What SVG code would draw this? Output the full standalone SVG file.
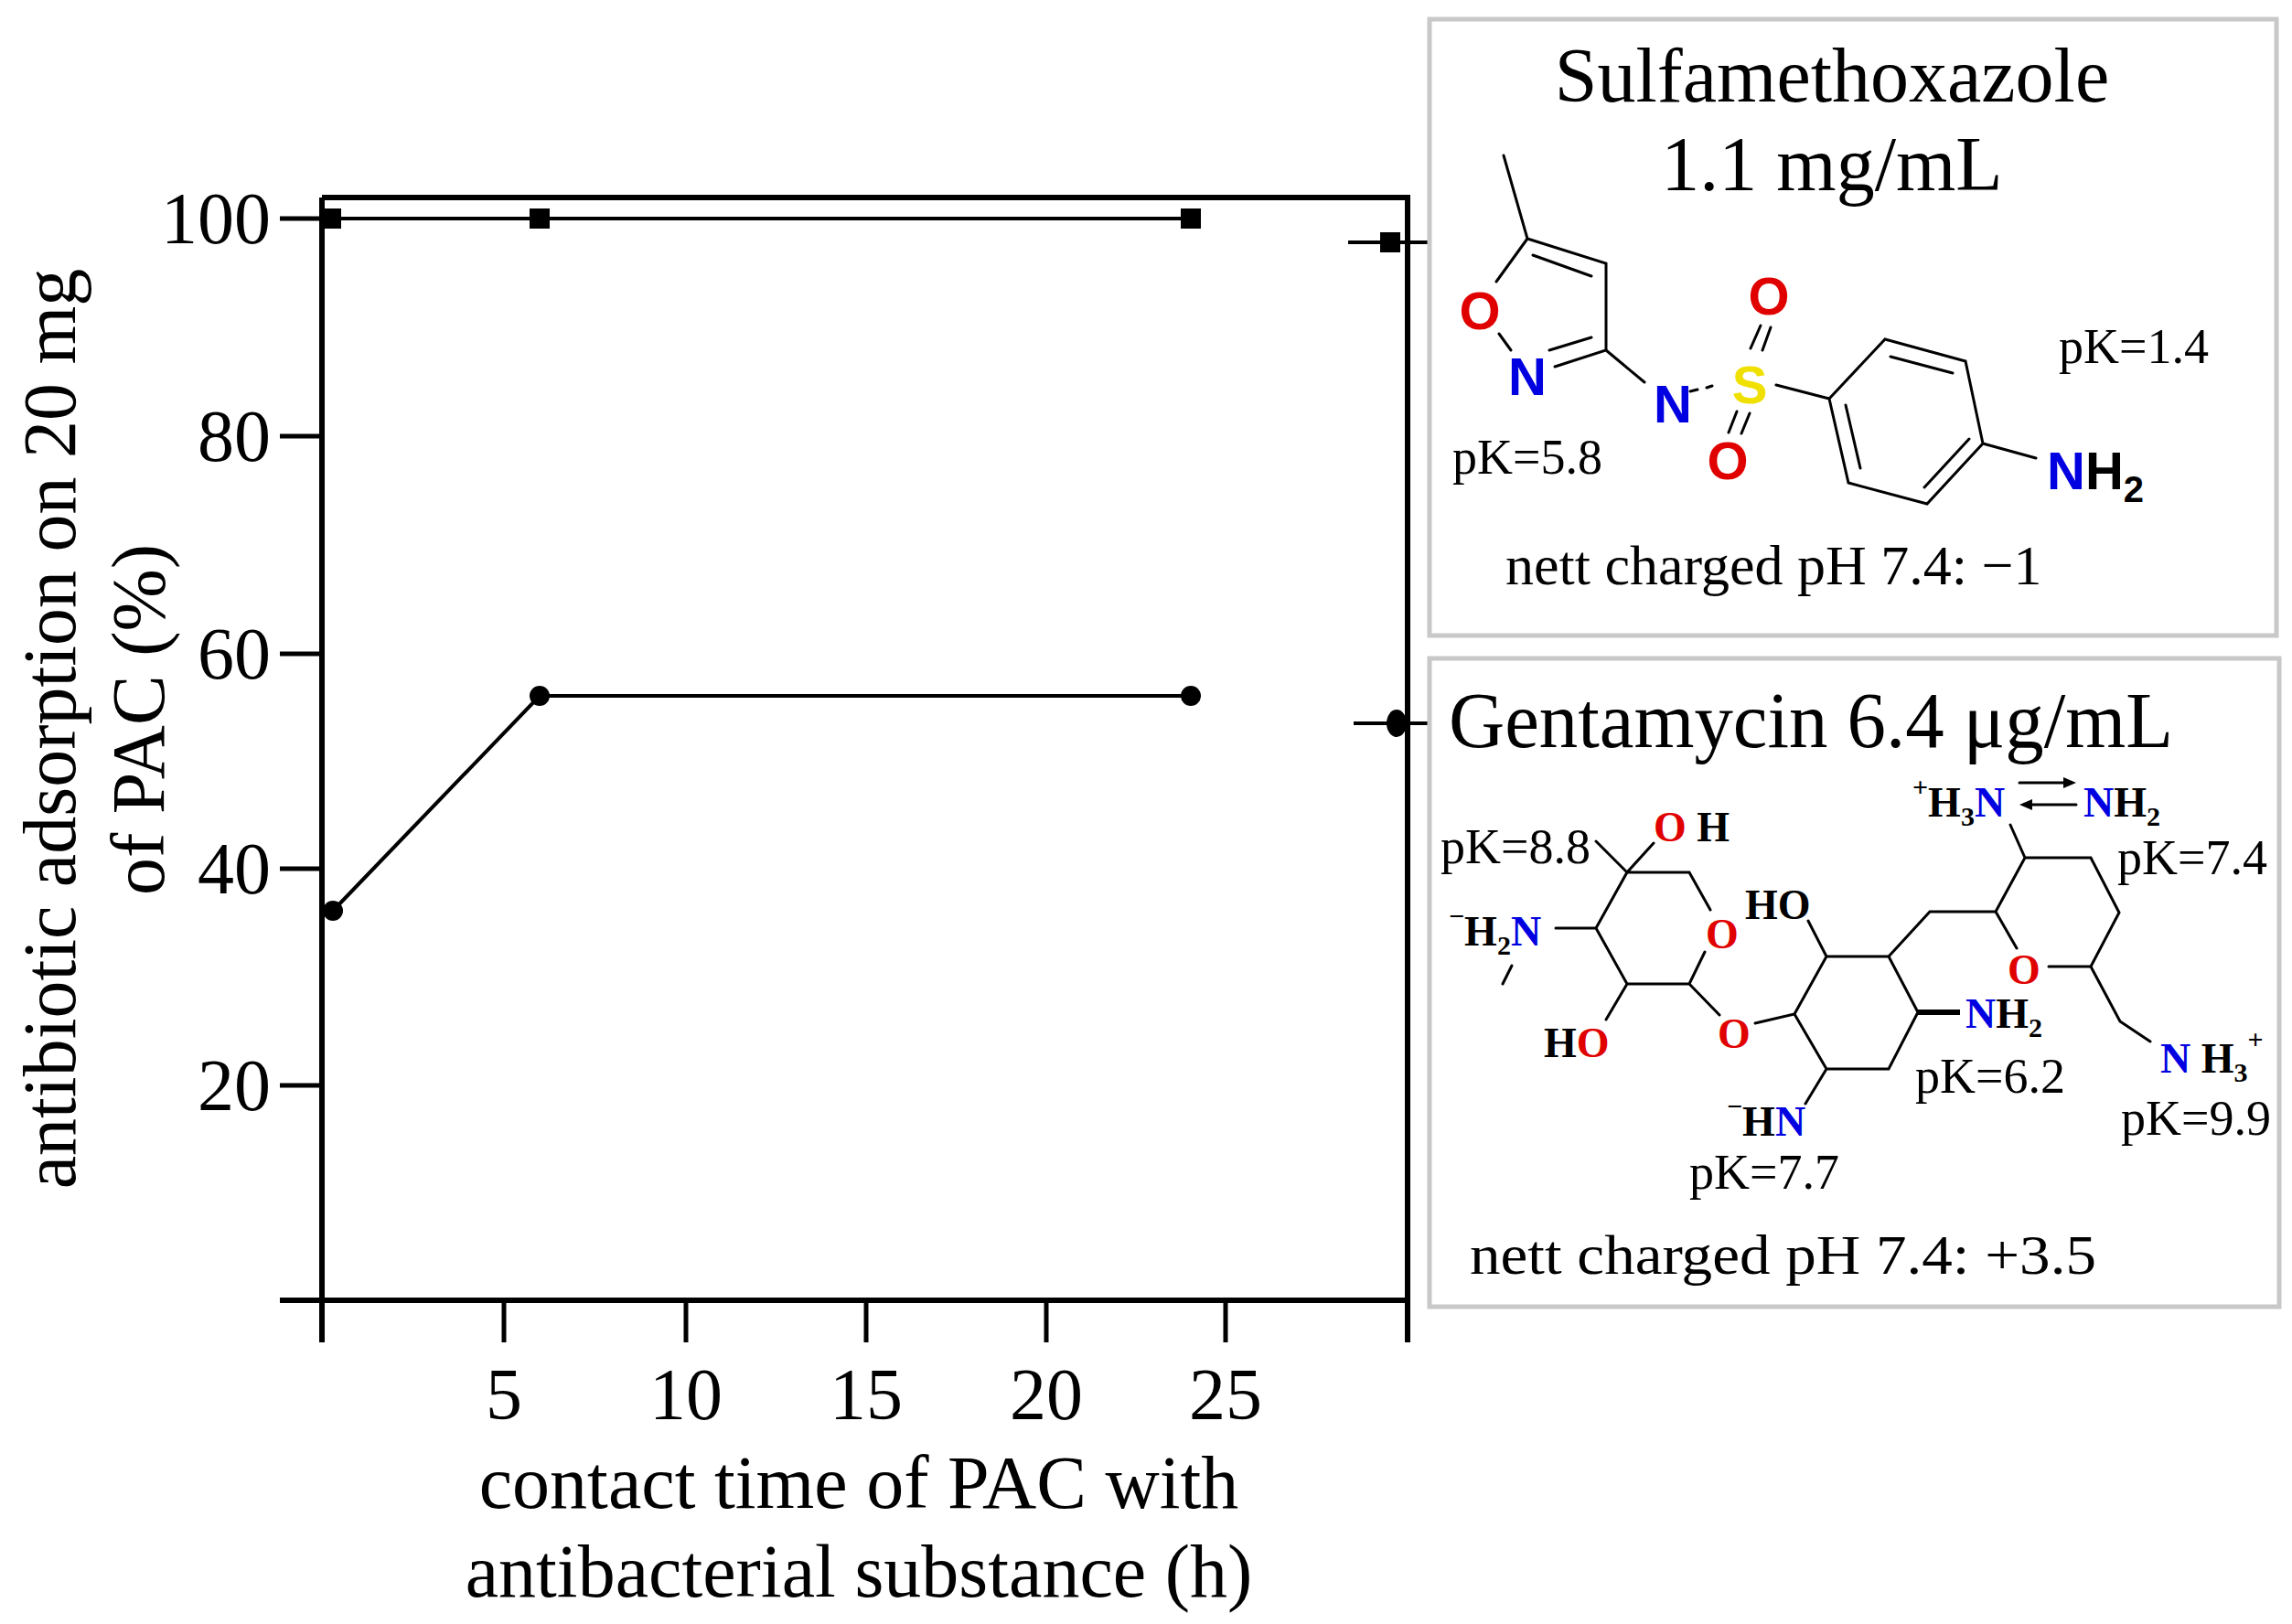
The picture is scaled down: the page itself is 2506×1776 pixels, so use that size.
<svg xmlns="http://www.w3.org/2000/svg" width="2506" height="1776" viewBox="0 0 2506 1776">
<style>
text{font-family:"Liberation Serif","Times New Roman",serif;fill:#000}
.ax{stroke:#000;stroke-width:6;fill:none}
.tk{stroke:#000;stroke-width:5}
.dl{stroke:#000;stroke-width:4;fill:none}
.b{stroke:#000;stroke-width:3;fill:none;stroke-linecap:round}
.lab{font-size:82px}
.tl{font-size:80px}
.pk{font-size:54px}
.at{font-family:"Liberation Sans",Arial,sans-serif;font-weight:bold;font-size:58px}
.st{font-weight:bold;font-size:46px}
.box{fill:#fff;stroke:#c8c8c8;stroke-width:5}
.r{fill:#e00000}.bl{fill:#0000e0}.y{fill:#f0e000}
</style>
<g id="plot">
<path class="ax" d="M352,216 H1539 V1468 M352,216 V1468 M306,1422 H1539"/>
<path class="tk" d="M306,239 H352 M306,477 H352 M306,715 H352 M306,950 H352 M306,1187 H352 M551,1422 V1468 M750,1422 V1468 M947,1422 V1468 M1144,1422 V1468 M1340,1422 V1468"/>
<g class="tl" text-anchor="end">
<text x="296" y="266">100</text><text x="296" y="504">80</text><text x="296" y="742">60</text><text x="296" y="977">40</text><text x="296" y="1214">20</text>
</g>
<g class="tl" text-anchor="middle">
<text x="551" y="1552">5</text><text x="750" y="1552">10</text><text x="947" y="1552">15</text><text x="1144" y="1552">20</text><text x="1340" y="1552">25</text>
</g>
<text class="lab" x="939" y="1649" text-anchor="middle">contact time of PAC with</text>
<text class="lab" x="939" y="1746" text-anchor="middle">antibacterial substance (h)</text>
<text class="lab" transform="translate(82,797) rotate(-90)" text-anchor="middle">antibiotic adsorption  on 20 mg</text>
<text class="lab" transform="translate(179,787) rotate(-90)" text-anchor="middle">of  PAC (%)</text>
</g>
<g id="series">
<polyline class="dl" points="362,239 590,239 1302,239"/>
<polyline class="dl" points="364,996 590,761 1302,761"/>
<rect x="351" y="228" width="22" height="22"/><rect x="579" y="228" width="22" height="22"/><rect x="1291" y="228" width="22" height="22"/>
<circle cx="364" cy="996" r="11"/><circle cx="590" cy="761" r="11"/><circle cx="1302" cy="761" r="11"/>
<path class="dl" d="M1474,265 H1562 M1480,791 H1562"/>
<rect x="1509" y="254" width="22" height="22"/>
<ellipse cx="1527" cy="791" rx="11" ry="15"/>
</g>
<g id="sulfamethoxazole">
<rect class="box" x="1563" y="21" width="926" height="674"/>
<text x="2003" y="111" font-size="84" text-anchor="middle">Sulfamethoxazole</text>
<text x="2003" y="208" font-size="84" text-anchor="middle">1.1 mg/mL</text>
<path class="b" d="M1644,170 L1670,261 L1756,288 L1756,383 L1700,401 M1676,279 L1740,302 M1694,383 L1740,369 M1636,308 L1670,261 M1639,365 L1652,383 M1756,383 L1798,418 M1848,428 L1856,426 M1866,424 L1872,422 M1914,381 L1925,356 M1927,383 L1936,358 M1890,473 L1899,450 M1904,474 L1913,452 M1942,421 L2000,436 M2000,436 L2061,371 L2149,395 L2168,485 L2107,551 L2021,528 Z M2067,390 L2135,408 M2018,443 L2034,512 M2153,480 L2104,533 M2168,485 L2226,501"/>
<text class="at r" x="1618" y="360" text-anchor="middle">O</text>
<text class="at bl" x="1670" y="432" text-anchor="middle">N</text>
<text class="at bl" x="1829" y="462" text-anchor="middle">N</text>
<text class="at y" x="1913" y="441" text-anchor="middle">S</text>
<text class="at r" x="1934" y="344" text-anchor="middle">O</text>
<text class="at r" x="1889" y="524" text-anchor="middle">O</text>
<text class="at" x="2238" y="535"><tspan class="bl">N</tspan>H<tspan font-size="40" dy="14">2</tspan></text>
<text class="pk" x="2251" y="397">pK=1.4</text>
<text class="pk" x="1588" y="518">pK=5.8</text>
<text x="1646" y="639" font-size="62">nett charged pH 7.4: −1</text>
</g>
<g id="gentamycin">
<rect class="box" x="1563" y="720" width="929" height="709"/>
<text x="1584" y="817" font-size="86" textLength="792" lengthAdjust="spacingAndGlyphs">Gentamycin 6.4 μg/mL</text>
<path class="b" d="M1779,954 L1847,954 L1870,995 M1864,1041 L1847,1076 L1779,1076 L1745,1015 L1779,954 L1808,922 M1745,920 L1779,954 M1701,1015 L1745,1015 M1653,1056 L1643,1076 M1779,1076 L1756,1115 M1847,1076 L1880,1110 M1919,1119 L1962,1109 L1997,1046 L2065,1046 L2097,1107 L2065,1169 L1997,1169 L1962,1109 M1977,1007 L1997,1046 M1997,1169 L1974,1207 M2065,1046 L2110,997 L2182,997 L2214,938 L2286,938 L2317,998 L2286,1057 L2240,1057 M2182,997 L2205,1037 M2214,938 L2198,902 M2286,1057 L2318,1117 L2351,1139"/>
<path stroke="#000" stroke-width="6" d="M2097,1107 H2143"/>
<path class="b" d="M2208,856 H2265 M2270,880 H2213"/>
<path d="M2270,856 l-14,-6 v12 z M2208,880 l14,-6 v12 z"/>
<text class="st" x="1808" y="920"><tspan class="r">O</tspan> H</text>
<text class="pk" x="1575" y="944">pK=8.8</text>
<text class="st" x="1584" y="1034"><tspan font-size="30" dy="-22">−</tspan><tspan dy="22">H</tspan><tspan font-size="30" dy="10">2</tspan><tspan class="bl" dy="-10">N</tspan></text>
<text class="st" x="1688" y="1156">H<tspan class="r">O</tspan></text>
<text class="st r" x="1883" y="1037" text-anchor="middle">O</text>
<text class="st r" x="1896" y="1146" text-anchor="middle">O</text>
<text class="st" x="1908" y="1005">HO</text>
<text class="st" x="2149" y="1124"><tspan class="bl">N</tspan>H<tspan font-size="30" dy="10">2</tspan></text>
<text class="pk" x="2094" y="1195">pK=6.2</text>
<text class="st" x="1888" y="1242"><tspan font-size="30" dy="-22">−</tspan><tspan dy="22">H</tspan><tspan class="bl">N</tspan></text>
<text class="pk" x="1847" y="1300">pK=7.7</text>
<text class="st" x="2091" y="893"><tspan font-size="30" dy="-22">+</tspan><tspan dy="22">H</tspan><tspan font-size="30" dy="10">3</tspan><tspan class="bl" dy="-10">N</tspan></text>
<text class="st" x="2278" y="893"><tspan class="bl">N</tspan>H<tspan font-size="30" dy="10">2</tspan></text>
<text class="pk" x="2315" y="956">pK=7.4</text>
<text class="st r" x="2213" y="1076" text-anchor="middle">O</text>
<text class="st" x="2362" y="1173"><tspan class="bl">N</tspan> H<tspan font-size="30" dy="10">3</tspan><tspan font-size="30" dy="-36">+</tspan></text>
<text class="pk" x="2319" y="1241">pK=9.9</text>
<text x="1607" y="1393" font-size="62" textLength="685" lengthAdjust="spacingAndGlyphs">nett charged pH 7.4:  +3.5</text>
</g>
</svg>
